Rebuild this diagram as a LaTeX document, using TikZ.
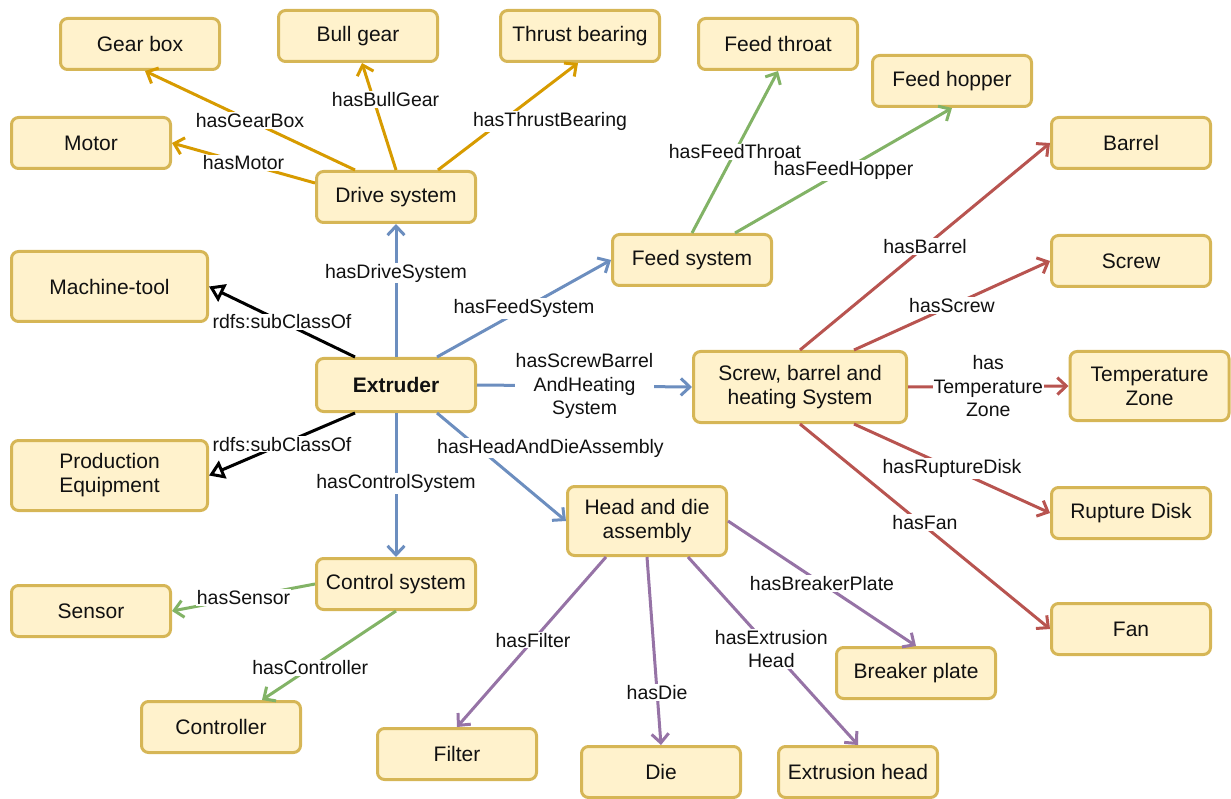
\documentclass[tikz,border=0pt]{standalone}
\usepackage{fontspec}
\setmainfont{Liberation Sans}
\usetikzlibrary{arrows.meta}
\definecolor{nfill}{HTML}{FFF2CC}
\definecolor{nline}{HTML}{D6B656}
\definecolor{corange}{HTML}{D79B00}
\definecolor{cblue}{HTML}{6C8EBF}
\definecolor{cgreen}{HTML}{82B366}
\definecolor{cred}{HTML}{B85450}
\definecolor{cpurple}{HTML}{9673A6}
\definecolor{ctext}{HTML}{111111}
\begin{document}
\begin{tikzpicture}[x=1pt,y=-1pt,
 box/.style={draw=nline, fill=nfill, line width=3pt, rounded corners=7pt, minimum width=159pt, minimum height=51pt, align=center, font=\fontsize{21}{24}\selectfont, text=ctext, inner sep=2pt},
 lbl/.style={fill=white, inner sep=1pt, font=\fontsize{19.5}{23.5}\selectfont, text=ctext, align=center},
 rel/.style={line width=3pt, -{Straight Barb[length=9pt,width=17pt]}},
 sub/.style={line width=3pt, black, -{Triangle[length=15pt,width=19pt,fill=white]}},
]
\useasboundingbox (0,0) rectangle (1231,799);

\node[box] (gb) at (140,44) {Gear box};
\node[box] (bg) at (358,36) {Bull gear};
\node[box] (tb) at (580,36) {Thrust bearing};
\node[box] (mo) at (91,143) {Motor};
\node[box] (ds) at (396,197) {Drive system};
\node[box] (ft) at (778,44) {Feed throat};
\node[box] (fh) at (952,81) {Feed hopper};
\node[box] (ba) at (1131,143) {Barrel};
\node[box] (sc) at (1131,261) {Screw};
\node[box] (fs) at (692,260) {Feed system};
\node[box, minimum width=196pt, minimum height=70pt] (mt) at (109.5,286.5) {Machine-tool};
\node[box, minimum height=53pt] (ex) at (396,385) {\textbf{Extruder}};
\node[box, minimum width=196pt, minimum height=70pt] (pe) at (109.5,475.5) {Production\\Equipment};
\node[box, minimum width=213pt, minimum height=71pt] (sb) at (800,387) {Screw, barrel and\\heating System};
\node[box, minimum height=69pt] (tz) at (1149.5,386) {Temperature\\Zone};
\node[box] (rd) at (1131,513) {Rupture Disk};
\node[box] (fan) at (1131,629) {Fan};
\node[box, minimum height=69pt] (hd) at (647,521) {Head and die\\assembly};
\node[box] (cs) at (396,584) {Control system};
\node[box] (se) at (91,611) {Sensor};
\node[box] (co) at (221,727) {Controller};
\node[box] (fi) at (457,754) {Filter};
\node[box] (die) at (661,772) {Die};
\node[box] (eh) at (858,772) {Extrusion head};
\node[box] (bp) at (916,673) {Breaker plate};

% drive system
\draw[rel, corange] ([xshift=-41pt]ds.north) -- ([xshift=5pt]gb.south) node[lbl, pos=0.5] {hasGearBox};
\draw[rel, corange] ([yshift=14pt]ds.west) -- (mo.east) node[lbl, pos=0.5] {hasMotor};
\draw[rel, corange] (ds.north) -- ([xshift=4pt]bg.south) node[lbl, pos=0.66, xshift=12pt] {hasBullGear};
\draw[rel, corange] ([xshift=42pt]ds.north) -- ([xshift=-2pt]tb.south) node[lbl, pos=0.5, xshift=42pt, yshift=-5pt] {hasThrustBearing};

% extruder
\draw[rel, cblue] (ex.north) -- (ds.south) node[lbl, pos=0.63] {hasDriveSystem};
\draw[sub] ([xshift=-41pt]ex.north) -- (mt.east) node[lbl, pos=0.5] {rdfs:subClassOf};
\draw[sub] ([xshift=-41pt]ex.south) -- (pe.east) node[lbl, pos=0.5] {rdfs:subClassOf};
\draw[rel, cblue] ([xshift=41pt]ex.north) -- (fs.west) node[lbl, pos=0.5] {hasFeedSystem};
\draw[rel, cblue] (ex.east) -- (sb.west) node[lbl, pos=0.5] {hasScrewBarrel\\AndHeating\\System};
\draw[rel, cblue] ([xshift=41pt]ex.south) -- (hd.west) node[lbl, pos=0.5, xshift=49pt, yshift=19pt] {hasHeadAndDieAssembly};
\draw[rel, cblue] (ex.south) -- (cs.north) node[lbl, pos=0.49] {hasControlSystem};

% feed system
\draw[rel, cgreen] (fs.north) -- (ft.south) node[lbl, pos=0.5] {hasFeedThroat};
\draw[rel, cgreen] ([xshift=43pt]fs.north) -- (fh.south) node[lbl, pos=0.5] {hasFeedHopper};

% screw barrel heating
\draw[rel, cred] (sb.north) -- (ba.west) node[lbl, pos=0.5] {hasBarrel};
\draw[rel, cred] ([xshift=54pt]sb.north) -- (sc.west) node[lbl, pos=0.5] {hasScrew};
\draw[rel, cred] (sb.east) -- (tz.west) node[lbl, pos=0.5] {has\\Temperature\\Zone};
\draw[rel, cred] ([xshift=54pt]sb.south) -- (rd.west) node[lbl, pos=0.5] {hasRuptureDisk};
\draw[rel, cred] (sb.south) -- (fan.west) node[lbl, pos=0.5, yshift=4pt] {hasFan};

% control system
\draw[rel, cgreen] (cs.west) -- (se.east) node[lbl, pos=0.5] {hasSensor};
\draw[rel, cgreen] (cs.south) -- ([xshift=41pt]co.north) node[lbl, pos=0.64] {hasController};

% head and die
\draw[rel, cpurple] ([xshift=-41pt]hd.south) -- (fi.north) node[lbl, pos=0.49] {hasFilter};
\draw[rel, cpurple] (hd.south) -- (die.north) node[lbl, pos=0.72] {hasDie};
\draw[rel, cpurple] ([xshift=41pt]hd.south) -- (eh.north) node[lbl, pos=0.49] {hasExtrusion\\Head};
\draw[rel, cpurple] (hd.east) -- (bp.north) node[lbl, pos=0.5] {hasBreakerPlate};
\end{tikzpicture}
\end{document}
